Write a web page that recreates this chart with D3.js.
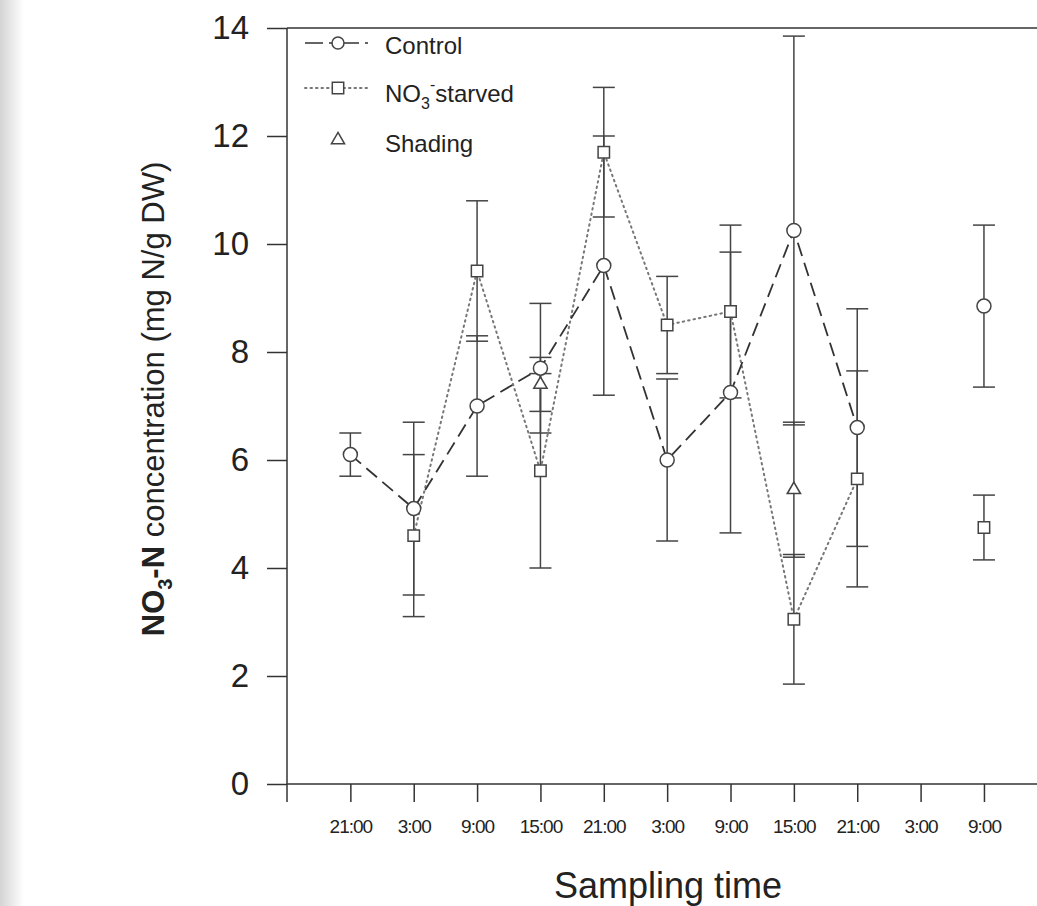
<!DOCTYPE html>
<html>
<head>
<meta charset="UTF-8">
<title>NO3-N concentration</title>
<script src="https://d3js.org/d3.v7.min.js"></script>
<style>
  * { margin: 0; padding: 0; box-sizing: border-box; }
  body { background: #fff; font-family: Arial, "Liberation Sans", sans-serif; }
</style>
</head>
<body>
<div id="chart"></div>
<script>
// sampling times (x categories)
const timeLabels = ["21:00", "3:00", "9:00", "15:00", "21:00", "3:00", "9:00", "15:00", "21:00", "3:00", "9:00"];

// Control
const controlMean = [6.1, 5.1, 7.0, 7.7, 9.6, 6.0, 7.25, 10.25, 6.6, null, 8.85];
const controlErr  = [0.4, 1.6, 1.3, 1.2, 2.4, 1.5, 2.6, 3.6, 2.2, null, 1.5];

// NO3- starved
const starvedMean = [null, 4.6, 9.5, 5.8, 11.7, 8.5, 8.75, 3.05, 5.65, null, 4.75];
const starvedErr  = [null, 1.5, 1.3, 1.8, 1.2, 0.9, 1.6, 1.2, 2.0, null, 0.6];

// Shading
const shadingMean = [null, null, null, 7.4, null, null, null, 5.45, null, null, null];
const shadingErr  = [null, null, null, 0.5, null, null, null, 1.25, null, null, null];

const yTicks = [0, 2, 4, 6, 8, 10, 12, 14];

const W = 1037, H = 906;
const svg = d3.select("#chart").append("svg")
    .attr("width", W).attr("height", H);

// scan shadow on the left edge
const grad = svg.append("defs").append("linearGradient").attr("id", "edge");
grad.append("stop").attr("offset", "0%").attr("stop-color", "#d4d4d4");
grad.append("stop").attr("offset", "100%").attr("stop-color", "#fff");
svg.append("rect").attr("x", 0).attr("y", 0).attr("width", 24).attr("height", H)
    .attr("fill", "url(#edge)");

const x = d3.scaleLinear().domain([-1, 11.8]).range([287, 1098]);
const y = d3.scaleLinear().domain([0, 14]).range([784, 28]);

const ink = "#333";

// y axis
const yAxis = svg.append("g")
    .attr("transform", "translate(287,0)")
    .call(d3.axisLeft(y).tickValues(yTicks).tickSize(20).tickPadding(18));
yAxis.select(".domain").remove();
yAxis.selectAll("line").attr("stroke", ink).attr("stroke-width", 1.5);
yAxis.selectAll("text")
    .attr("font-family", "Arial, 'Liberation Sans', sans-serif")
    .attr("font-size", 33).attr("fill", "#222");
svg.append("line").attr("x1", 287).attr("x2", 287).attr("y1", 28).attr("y2", 802)
    .attr("stroke", ink).attr("stroke-width", 1.5);

// x axis
const xAxis = svg.append("g")
    .attr("transform", "translate(0,784)")
    .call(d3.axisBottom(x).tickValues(d3.range(timeLabels.length))
        .tickFormat(i => timeLabels[i]).tickSize(18).tickPadding(18));
xAxis.select(".domain").remove();
xAxis.selectAll("line").attr("stroke", ink).attr("stroke-width", 1.5);
xAxis.selectAll("text")
    .attr("font-family", "Arial, 'Liberation Sans', sans-serif")
    .attr("font-size", 19).attr("letter-spacing", "-1px").attr("fill", "#222");
svg.append("line").attr("x1", 287).attr("x2", W).attr("y1", 784).attr("y2", 784)
    .attr("stroke", ink).attr("stroke-width", 1.5);

// top frame
svg.append("line").attr("x1", 287).attr("x2", W).attr("y1", 28).attr("y2", 28)
    .attr("stroke", ink).attr("stroke-width", 1.5);

// axis titles
svg.append("text")
    .attr("x", 668).attr("y", 898)
    .attr("text-anchor", "middle")
    .attr("font-size", 36).attr("fill", "#222")
    .text("Sampling time");

const yl = svg.append("text")
    .attr("transform", "translate(164,399) rotate(-90)")
    .attr("text-anchor", "middle")
    .attr("font-size", 31).attr("fill", "#222");
yl.append("tspan").attr("font-weight", "bold").text("NO");
yl.append("tspan").attr("font-weight", "bold").attr("font-size", 20).attr("dy", 8).text("3");
yl.append("tspan").attr("font-weight", "bold").attr("dy", -8).text("-N");
yl.append("tspan").text(" concentration (mg N/g DW)");

function series(mean, err) {
    return mean.map((v, i) => ({ i, v, e: err[i] }));
}
const control = series(controlMean, controlErr);
const starved = series(starvedMean, starvedErr);
const shading = series(shadingMean, shadingErr);

// error bars
function errorBars(data) {
    const g = svg.append("g").attr("stroke", "#444").attr("stroke-width", 1.5);
    const d = data.filter(p => p.v != null);
    g.selectAll(".v").data(d).join("line")
        .attr("x1", p => x(p.i)).attr("x2", p => x(p.i))
        .attr("y1", p => y(p.v + p.e)).attr("y2", p => y(p.v - p.e));
    [1, -1].forEach(s => {
        g.selectAll(".c" + s).data(d).join("line")
            .attr("x1", p => x(p.i) - 11).attr("x2", p => x(p.i) + 11)
            .attr("y1", p => y(p.v + s * p.e)).attr("y2", p => y(p.v + s * p.e));
    });
}
errorBars(starved);
errorBars(shading);
errorBars(control);

const line = d3.line()
    .defined(p => p.v != null)
    .x(p => x(p.i)).y(p => y(p.v));

svg.append("path").datum(starved)
    .attr("d", line).attr("fill", "none")
    .attr("stroke", "#777").attr("stroke-width", 2)
    .attr("stroke-dasharray", "1.5,4").attr("stroke-linecap", "round");

svg.append("path").datum(control)
    .attr("d", line).attr("fill", "none")
    .attr("stroke", ink).attr("stroke-width", 1.8)
    .attr("stroke-dasharray", "14,7");

// markers
const sq = d3.symbol().type(d3.symbolSquare).size(130);
const tri = d3.symbol().type(d3.symbolTriangle).size(75);

svg.append("g").selectAll("path").data(starved.filter(p => p.v != null)).join("path")
    .attr("transform", p => `translate(${x(p.i)},${y(p.v)})`)
    .attr("d", sq).attr("fill", "#fff").attr("stroke", "#444").attr("stroke-width", 1.5);

svg.append("g").selectAll("path").data(shading.filter(p => p.v != null)).join("path")
    .attr("transform", p => `translate(${x(p.i)},${y(p.v)})`)
    .attr("d", tri).attr("fill", "#fff").attr("stroke", "#444").attr("stroke-width", 1.6);

svg.append("g").selectAll("circle").data(control.filter(p => p.v != null)).join("circle")
    .attr("cx", p => x(p.i)).attr("cy", p => y(p.v)).attr("r", 7)
    .attr("fill", "#fff").attr("stroke", "#444").attr("stroke-width", 1.5);

// legend
const lg = svg.append("g").attr("font-size", 24).attr("fill", "#222");
lg.append("line").attr("x1", 305).attr("x2", 368).attr("y1", 43).attr("y2", 43)
    .attr("stroke", ink).attr("stroke-width", 1.5).attr("stroke-dasharray", "18,6,6,6");
lg.append("circle").attr("cx", 338).attr("cy", 43).attr("r", 6)
    .attr("fill", "#fff").attr("stroke", "#444").attr("stroke-width", 1.5);
lg.append("text").attr("x", 385).attr("y", 54).text("Control");

lg.append("line").attr("x1", 305).attr("x2", 368).attr("y1", 88).attr("y2", 88)
    .attr("stroke", "#777").attr("stroke-width", 2)
    .attr("stroke-dasharray", "1.5,4").attr("stroke-linecap", "round");
lg.append("path").attr("transform", "translate(338,88)").attr("d", sq)
    .attr("fill", "#fff").attr("stroke", "#444").attr("stroke-width", 1.5);
const nt = lg.append("text").attr("x", 385).attr("y", 102);
nt.append("tspan").text("NO");
nt.append("tspan").attr("font-size", 16).attr("dy", 7).text("3");
nt.append("tspan").attr("font-size", 16).attr("dy", -19).text("-");
nt.append("tspan").attr("dy", 12).text("starved");

lg.append("path").attr("transform", "translate(338,140)").attr("d", tri)
    .attr("fill", "#fff").attr("stroke", "#444").attr("stroke-width", 1.5);
lg.append("text").attr("x", 385).attr("y", 152).text("Shading");
</script>
</body>
</html>
